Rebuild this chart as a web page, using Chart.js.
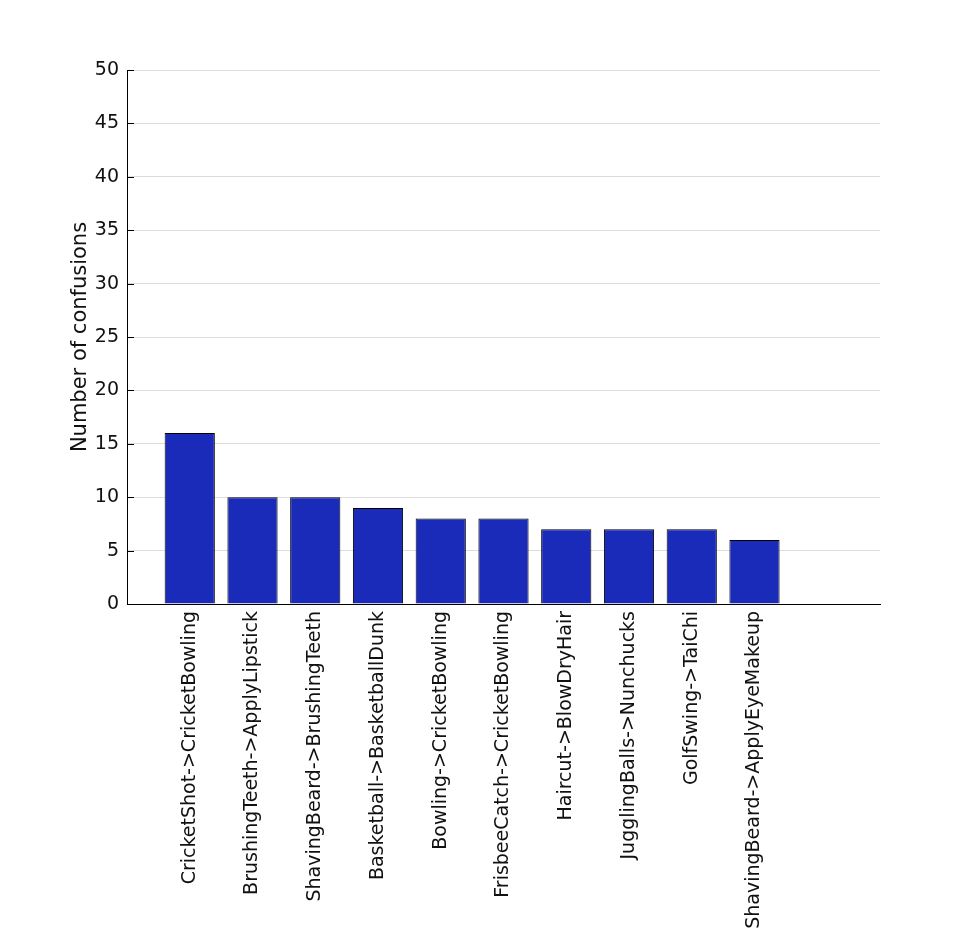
<!DOCTYPE html>
<html>
<head>
<meta charset="utf-8">
<script src="https://cdn.jsdelivr.net/npm/chart.js@4"></script>
<style>
  html, body { margin: 0; padding: 0; background: #fff; }
  #wrap { width: 974px; height: 930px; }
</style>
</head>
<body>
<div id="wrap"><canvas id="confusionChart"></canvas></div>
<script>
const categories = [
  "CricketShot->CricketBowling",
  "BrushingTeeth->ApplyLipstick",
  "ShavingBeard->BrushingTeeth",
  "Basketball->BasketballDunk",
  "Bowling->CricketBowling",
  "FrisbeeCatch->CricketBowling",
  "Haircut->BlowDryHair",
  "JugglingBalls->Nunchucks",
  "GolfSwing->TaiChi",
  "ShavingBeard->ApplyEyeMakeup",
];
const confusions = [16, 10, 10, 9, 8, 8, 7, 7, 7, 6];
const yTicks = [0, 5, 10, 15, 20, 25, 30, 35, 40, 45, 50];

// axis runs 0..12 like the original, bars sit on 1..10
const labels = ["", ...categories, "", ""];
const values = [null, ...confusions, null, null];

Chart.defaults.font.family = "DejaVu Sans";
Chart.defaults.color = "#111";

// short black ticks pointing into the plot
const innerTicks = {
  id: "innerTicks",
  afterDraw(chart) {
    const y = chart.scales.y;
    const ctx = chart.ctx;
    ctx.save();
    ctx.strokeStyle = "#000";
    ctx.lineWidth = 1;
    y.ticks.forEach((t) => {
      const py = Math.round(y.getPixelForValue(t.value)) + 0.5;
      ctx.beginPath();
      ctx.moveTo(y.right, py);
      ctx.lineTo(y.right + 7, py);
      ctx.stroke();
    });
    ctx.restore();
  },
};

new Chart(document.getElementById("confusionChart"), {
  type: "bar",
  data: {
    labels: labels,
    datasets: [
      {
        label: "Confusions",
        data: values,
        backgroundColor: "#1b2bb9",
        borderColor: "#000",
        borderWidth: 1,
        categoryPercentage: 1,
        barPercentage: 0.8,
      },
    ],
  },
  options: {
    responsive: true,
    maintainAspectRatio: false,
    animation: false,
    layout: { padding: { left: 0, top: 70, right: 94, bottom: 0 } },
    plugins: {
      legend: { display: false },
      tooltip: { enabled: false },
    },
    scales: {
      x: {
        offset: false,
        grid: { display: false, drawTicks: false },
        border: { display: true, color: "#000", width: 1 },
        ticks: {
          autoSkip: false,
          minRotation: 90,
          maxRotation: 90,
          padding: 7,
          font: { size: 19 },
        },
        afterFit: (scale) => {
          scale.height = 326;
        },
      },
      y: {
        min: 0,
        max: 50,
        afterBuildTicks: (scale) => {
          scale.ticks = yTicks.map((v) => ({ value: v }));
        },
        grid: {
          drawTicks: false,
          color: (c) => (c.tick && c.tick.value === 0 ? "#000" : "#dcdcdc"),
        },
        border: { display: true, color: "#000", width: 1 },
        ticks: { padding: 8, font: { size: 19 } },
        title: {
          display: true,
          text: "Number of confusions",
          font: { size: 21 },
          padding: { top: 68, bottom: 0 },
        },
        afterFit: (scale) => {
          scale.width = 127;
        },
      },
    },
  },
  plugins: [innerTicks],
});
</script>
</body>
</html>
